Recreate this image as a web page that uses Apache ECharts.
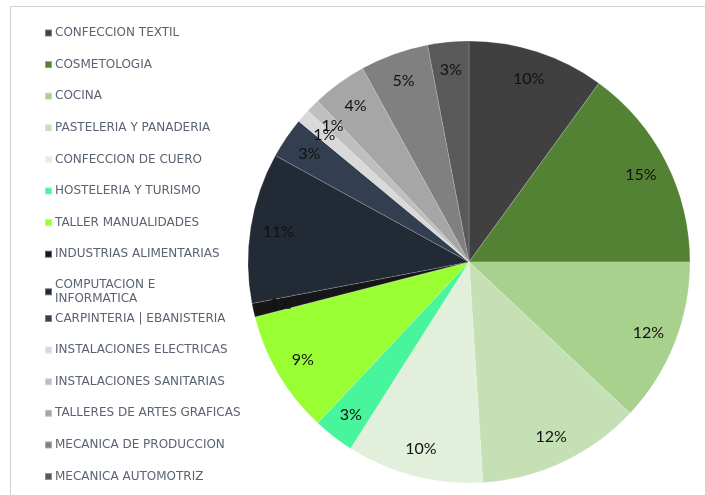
<!DOCTYPE html>
<html>
<head>
<meta charset="utf-8">
<script src="https://cdn.jsdelivr.net/npm/echarts@6/dist/echarts.min.js"></script>
<style>
  html, body { margin: 0; padding: 0; background: #fff; }
  #chart { width: 705px; height: 495px; }
</style>
</head>
<body>
<div id="chart"></div>
<script>
// Share of enrolment per workshop / course (percent)
const categories = [
  'CONFECCION TEXTIL',
  'COSMETOLOGIA',
  'COCINA',
  'PASTELERIA Y PANADERIA',
  'CONFECCION DE CUERO',
  'HOSTELERIA Y TURISMO',
  'TALLER MANUALIDADES',
  'INDUSTRIAS ALIMENTARIAS',
  'COMPUTACION E INFORMATICA',
  'CARPINTERIA | EBANISTERIA',
  'INSTALACIONES ELECTRICAS',
  'INSTALACIONES SANITARIAS',
  'TALLERES DE ARTES GRAFICAS',
  'MECANICA DE PRODUCCION',
  'MECANICA AUTOMOTRIZ'
];
const percents = [10, 15, 12, 12, 10, 3, 9, 1, 11, 3, 1, 1, 4, 5, 3];
const sliceColors = [
  '#404040', '#548235', '#A9D18E', '#C5E0B4', '#E2EFDA',
  '#48F49C', '#99FF33', '#161616', '#222A35', '#333F50',
  '#D9D9D9', '#BFBFBF', '#A6A6A6', '#808080', '#595959'
];

const pieData = categories.map((name, i) => ({
  name: name,
  value: percents[i],
  itemStyle: { color: sliceColors[i] }
}));

const center = [469, 262];
const outerR = 221;

const legendText = {
  color: '#5a6372',
  fontFamily: 'DejaVu Sans',
  fontSize: 12,
  lineHeight: 14,
  height: 14,
  padding: [0, 0, 0, -2]
};
const wrapNames = { 'COMPUTACION E INFORMATICA': 'COMPUTACION E\nINFORMATICA' };

const chart = echarts.init(document.getElementById('chart'), null, { renderer: 'canvas' });
chart.setOption({
  animation: false,
  backgroundColor: '#ffffff',
  graphic: [{
    type: 'rect',
    shape: { x: 10.5, y: 6.5, width: 800, height: 600 },
    style: { fill: 'none', stroke: '#d0d0d0', lineWidth: 1 },
    silent: true
  }],
  legend: [
    {
      orient: 'vertical',
      left: 44,
      top: 26,
      padding: 0,
      itemWidth: 7,
      itemHeight: 7,
      itemGap: 17.6,
      icon: 'rect',
      selectedMode: false,
      data: categories.slice(0, 9),
      formatter: n => wrapNames[n] || n,
      textStyle: legendText
    },
    {
      orient: 'vertical',
      left: 44,
      top: 311.5,
      padding: 0,
      itemWidth: 7,
      itemHeight: 7,
      itemGap: 17.6,
      icon: 'rect',
      selectedMode: false,
      data: categories.slice(9),
      formatter: n => wrapNames[n] || n,
      textStyle: legendText
    }
  ],
  series: [
    {
      type: 'pie',
      center: center,
      radius: [0, outerR],
      startAngle: 90,
      clockwise: true,
      silent: true,
      label: { show: false },
      labelLine: { show: false },
      itemStyle: { borderColor: 'rgba(255,255,255,0.35)', borderWidth: 0.5 },
      data: pieData
    },
    {
      // transparent ring that carries the percentage labels near the rim
      type: 'pie',
      center: center,
      radius: [159, outerR],
      startAngle: 90,
      clockwise: true,
      silent: true,
      avoidLabelOverlap: false,
      minShowLabelAngle: 0,
      labelLayout: { hideOverlap: false },
      itemStyle: { color: 'rgba(0,0,0,0)', borderWidth: 0 },
      label: {
        show: true,
        position: 'inside',
        formatter: p => p.value + '%',
        color: '#111111',
        fontFamily: 'Lato',
        fontSize: 16
      },
      labelLine: { show: false },
      data: categories.map((name, i) => ({ name: name, value: percents[i] }))
    }
  ]
});
</script>
</body>
</html>
